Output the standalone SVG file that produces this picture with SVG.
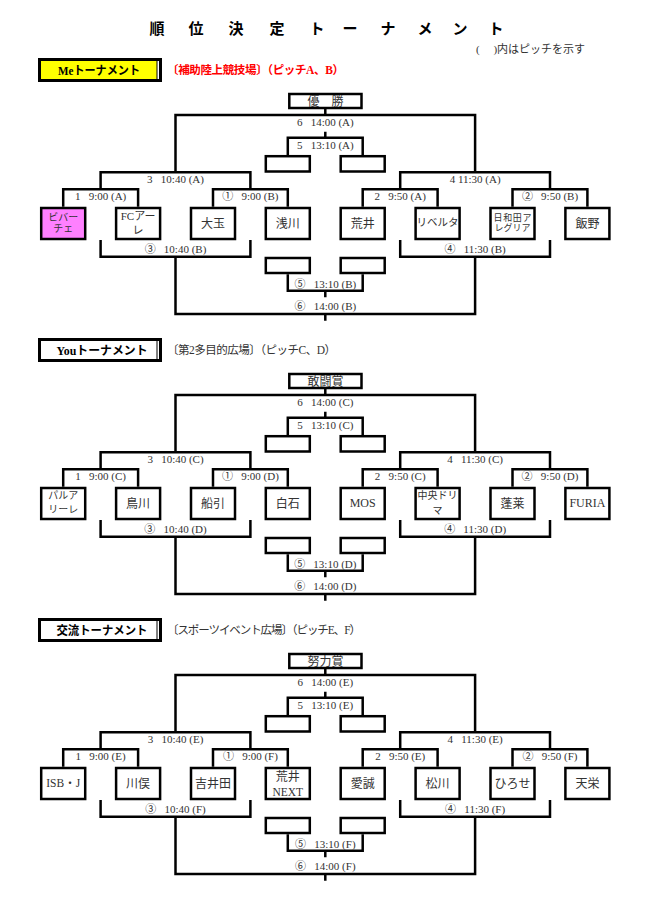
<svg xmlns="http://www.w3.org/2000/svg" width="649" height="906" viewBox="0 0 649 906">
<style>
.ln{fill:none;stroke:#000;stroke-width:2.5}
.bx{fill:#fff;stroke:#000;stroke-width:2.5}
.pk{fill:#ff80ff;stroke:#000;stroke-width:2.5}
.lb{font-family:"Liberation Serif","Noto Sans CJK JP",serif;font-size:11px;fill:#333;text-anchor:middle;white-space:pre}
.nm{font-family:"Liberation Serif","Noto Sans CJK JP",serif;font-size:12px;fill:#333;text-anchor:middle}
.hd{font-family:"Liberation Serif","Noto Sans CJK JP",serif;font-size:12px;font-weight:bold;fill:#000;text-anchor:middle}
.sub{font-family:"Liberation Serif","Noto Sans CJK JP",serif;font-size:11.5px;fill:#333}
.ttl{font-family:"Noto Sans CJK JP",sans-serif;font-size:15px;font-weight:bold;fill:#000;text-anchor:middle}
.ob{fill:#000}
.wh{fill:#fff}
</style>

<g id="title">
<text class="ttl" x="157 196 236 277 317 350 388 425 460 496" y="34">順位決定トーナメント</text>
<text x="476" y="52.5" style="font-family:'Liberation Serif','Noto Sans CJK JP',serif;font-size:11px;fill:#333;white-space:pre" xml:space="preserve">(　 )内はピッチを示す</text>
</g>

<g id="connectors" class="ln">
<path id="c-me" d="M325.3,109V115M175.5,172.3V115H475.1V172.3M325.3,131.7V137.7M287.8,155V137.7H362.7V155M100.6,189.3V172.3H250.4V189.3M400.2,189.3V172.3H550V189.3M63.2,206.7V189.3H138.1V206.7M213,206.7V189.3H287.8V206.7M362.7,206.7V189.3H437.6V206.7M512.5,206.7V189.3H587.4V206.7M100.6,240V256.7H250.4V240M400.2,240V256.7H550V240M175.5,256.7V314H475.1V256.7M287.8,274.3V290.7H362.7V274.3M325.3,290.7V297.3M325.3,314V320.7"/>
<path id="c-you" transform="translate(0,280)" d="M325.3,109V115M175.5,172.3V115H475.1V172.3M325.3,131.7V137.7M287.8,155V137.7H362.7V155M100.6,189.3V172.3H250.4V189.3M400.2,189.3V172.3H550V189.3M63.2,206.7V189.3H138.1V206.7M213,206.7V189.3H287.8V206.7M362.7,206.7V189.3H437.6V206.7M512.5,206.7V189.3H587.4V206.7M100.6,240V256.7H250.4V240M400.2,240V256.7H550V240M175.5,256.7V314H475.1V256.7M287.8,274.3V290.7H362.7V274.3M325.3,290.7V297.3M325.3,314V320.7"/>
<path id="c-kouryu" transform="translate(0,560)" d="M325.3,109V115M175.5,172.3V115H475.1V172.3M325.3,131.7V137.7M287.8,155V137.7H362.7V155M100.6,189.3V172.3H250.4V189.3M400.2,189.3V172.3H550V189.3M63.2,206.7V189.3H138.1V206.7M213,206.7V189.3H287.8V206.7M362.7,206.7V189.3H437.6V206.7M512.5,206.7V189.3H587.4V206.7M100.6,240V256.7H250.4V240M400.2,240V256.7H550V240M175.5,256.7V314H475.1V256.7M287.8,274.3V290.7H362.7V274.3M325.3,290.7V297.3M325.3,314V320.7"/>
</g>

<g id="labels-me">
<text class="lb" x="325.3" y="125.6">6   14:00 (A)</text>
<text class="lb" x="325.3" y="149">5   13:10 (A)</text>
<text class="lb" x="175.5" y="183.3">3   10:40 (A)</text>
<text class="lb" x="475.1" y="183.3">4 11:30 (A)</text>
<text class="lb" x="100.6" y="200">1   9:00 (A)</text>
<text class="lb" x="250.4" y="200">①   9:00 (B)</text>
<text class="lb" x="400.2" y="200">2   9:50 (A)</text>
<text class="lb" x="550" y="200">②   9:50 (B)</text>
<text class="lb" x="175.5" y="253">③   10:40 (B)</text>
<text class="lb" x="475.1" y="253">④   11:30 (B)</text>
<text class="lb" x="325.3" y="287.6">⑤   13:10 (B)</text>
<text class="lb" x="325.3" y="310.3">⑥   14:00 (B)</text>
</g>
<g id="labels-you" transform="translate(0,280)">
<text class="lb" x="325.3" y="125.6">6   14:00 (C)</text>
<text class="lb" x="325.3" y="149">5   13:10 (C)</text>
<text class="lb" x="175.5" y="183.3">3   10:40 (C)</text>
<text class="lb" x="475.1" y="183.3">4   11:30 (C)</text>
<text class="lb" x="100.6" y="200">1   9:00 (C)</text>
<text class="lb" x="250.4" y="200">①   9:00 (D)</text>
<text class="lb" x="400.2" y="200">2   9:50 (C)</text>
<text class="lb" x="550" y="200">②   9:50 (D)</text>
<text class="lb" x="175.5" y="253">③   10:40 (D)</text>
<text class="lb" x="475.1" y="253">④   11:30 (D)</text>
<text class="lb" x="325.3" y="287.6">⑤   13:10 (D)</text>
<text class="lb" x="325.3" y="310.3">⑥   14:00 (D)</text>
</g>
<g id="labels-kouryu" transform="translate(0,560)">
<text class="lb" x="325.3" y="125.6">6   14:00 (E)</text>
<text class="lb" x="325.3" y="149">5   13:10 (E)</text>
<text class="lb" x="175.5" y="183.3">3   10:40 (E)</text>
<text class="lb" x="475.1" y="183.3">4   11:30 (E)</text>
<text class="lb" x="100.6" y="200">1   9:00 (E)</text>
<text class="lb" x="250.4" y="200">①   9:00 (F)</text>
<text class="lb" x="400.2" y="200">2   9:50 (E)</text>
<text class="lb" x="550" y="200">②   9:50 (F)</text>
<text class="lb" x="175.5" y="253">③   10:40 (F)</text>
<text class="lb" x="475.1" y="253">④   11:30 (F)</text>
<text class="lb" x="325.3" y="287.6">⑤   13:10 (F)</text>
<text class="lb" x="325.3" y="310.3">⑥   14:00 (F)</text>
</g>

<!-- Section 1: Me -->
<g id="me">
<g id="me-header">
<rect class="ob" x="38" y="58" width="124" height="24"/>
<rect x="41" y="61" width="115.5" height="18" fill="#ff0"/>
<rect class="wh" x="157.5" y="61" width="1.5" height="18"/>
<text class="hd" x="99" y="74.5" textLength="82" lengthAdjust="spacingAndGlyphs">Meトーナメント</text>
</g>
<text id="me-place" class="sub" x="167" y="74" textLength="177" style="fill:#f00;font-weight:bold">〔補助陸上競技場〕（ピッチA、B）</text>
<g id="me-final"><rect class="bx" x="289.3" y="94" width="72.2" height="14"/><text class="nm" x="325.4" y="105.5">優　勝</text></g>
<g id="me-sf1"><rect class="bx" x="265.8" y="156.2" width="44" height="15.3"/></g>
<g id="me-sf2"><rect class="bx" x="340.7" y="156.2" width="44" height="15.3"/></g>
<g id="me-sf3"><rect class="bx" x="265.8" y="258" width="44" height="15"/></g>
<g id="me-sf4"><rect class="bx" x="340.7" y="258" width="44" height="15"/></g>
<g id="me-t1"><rect class="pk" x="41.2" y="208" width="44" height="31"/><text class="nm" style="font-size:10px" x="63.2" y="220.5">ビバー</text><text class="nm" style="font-size:10px" x="63.2" y="232">チェ</text></g>
<g id="me-t2"><rect class="bx" x="116.1" y="208" width="44" height="31"/><text class="nm" style="font-size:11px" x="138.1" y="220">FCアー</text><text class="nm" style="font-size:11px" x="138.1" y="234">レ</text></g>
<g id="me-t3"><rect class="bx" x="191" y="208" width="44" height="31"/><text class="nm" x="213" y="227.8">大玉</text></g>
<g id="me-t4"><rect class="bx" x="265.8" y="208" width="44" height="31"/><text class="nm" x="287.8" y="227.8">浅川</text></g>
<g id="me-t5"><rect class="bx" x="340.7" y="208" width="44" height="31"/><text class="nm" x="362.7" y="227.8">荒井</text></g>
<g id="me-t6"><rect class="bx" x="415.6" y="208" width="44" height="31"/><text class="nm" style="font-size:10.5px" x="437.6" y="225.6">リベルタ</text></g>
<g id="me-t7"><rect class="bx" x="490.5" y="208" width="44" height="31"/><text class="nm" style="font-size:9px;letter-spacing:0.6px" x="512.8" y="221">日和田ア</text><text class="nm" style="font-size:9px" x="512.5" y="231">レグリア</text></g>
<g id="me-t8"><rect class="bx" x="565.4" y="208" width="44" height="31"/><text class="nm" x="587.4" y="227.8">飯野</text></g>
</g>

<!-- Section 2: You -->
<g id="you" transform="translate(0,280)">
<g id="you-header">
<rect class="ob" x="38" y="58" width="124" height="24"/>
<rect class="wh" x="41" y="61" width="115.5" height="18"/>
<rect class="wh" x="157.5" y="61" width="1.5" height="18"/>
<text class="hd" x="102" y="74.5" textLength="91" lengthAdjust="spacingAndGlyphs">Youトーナメント</text>
</g>
<text id="you-place" class="sub" x="167" y="74" textLength="169">〔第2多目的広場〕（ピッチC、D）</text>
<g id="you-final"><rect class="bx" x="289.3" y="94" width="72.2" height="14"/><text class="nm" x="325.4" y="105.5">敢闘賞</text></g>
<g id="you-sf1"><rect class="bx" x="265.8" y="156.2" width="44" height="15.3"/></g>
<g id="you-sf2"><rect class="bx" x="340.7" y="156.2" width="44" height="15.3"/></g>
<g id="you-sf3"><rect class="bx" x="265.8" y="258" width="44" height="15"/></g>
<g id="you-sf4"><rect class="bx" x="340.7" y="258" width="44" height="15"/></g>
<g id="you-t1"><rect class="bx" x="41.2" y="208" width="44" height="31"/><text class="nm" style="font-size:10px" x="63.2" y="219">パルア</text><text class="nm" style="font-size:10px" x="63.2" y="233.2">リーレ</text></g>
<g id="you-t2"><rect class="bx" x="116.1" y="208" width="44" height="31"/><text class="nm" x="138.1" y="227.8">鳥川</text></g>
<g id="you-t3"><rect class="bx" x="191" y="208" width="44" height="31"/><text class="nm" x="213" y="227.8">船引</text></g>
<g id="you-t4"><rect class="bx" x="265.8" y="208" width="44" height="31"/><text class="nm" x="287.8" y="227.8">白石</text></g>
<g id="you-t5"><rect class="bx" x="340.7" y="208" width="44" height="31"/><text class="nm" x="362.7" y="227.3">MOS</text></g>
<g id="you-t6"><rect class="bx" x="415.6" y="208" width="44" height="31"/><text class="nm" style="font-size:10px" x="437.6" y="219">中央ドリ</text><text class="nm" style="font-size:10px" x="437.6" y="233.8">マ</text></g>
<g id="you-t7"><rect class="bx" x="490.5" y="208" width="44" height="31"/><text class="nm" x="512.5" y="227.8">蓬莱</text></g>
<g id="you-t8"><rect class="bx" x="565.4" y="208" width="44" height="31"/><text class="nm" x="587.4" y="227.3">FURIA</text></g>
</g>

<!-- Section 3: 交流 -->
<g id="kouryu" transform="translate(0,560)">
<g id="kouryu-header">
<rect class="ob" x="38" y="58" width="124" height="24"/>
<rect class="wh" x="41" y="61" width="115.5" height="18"/>
<rect class="wh" x="157.5" y="61" width="1.5" height="18"/>
<text class="hd" x="102" y="74.5" textLength="91" lengthAdjust="spacingAndGlyphs">交流トーナメント</text>
</g>
<text id="kouryu-place" class="sub" x="167" y="74" textLength="194">〔スポーツイベント広場〕（ピッチE、F）</text>
<g id="kouryu-final"><rect class="bx" x="289.3" y="94" width="72.2" height="14"/><text class="nm" x="325.4" y="105.5">努力賞</text></g>
<g id="kouryu-sf1"><rect class="bx" x="265.8" y="156.2" width="44" height="15.3"/></g>
<g id="kouryu-sf2"><rect class="bx" x="340.7" y="156.2" width="44" height="15.3"/></g>
<g id="kouryu-sf3"><rect class="bx" x="265.8" y="258" width="44" height="15"/></g>
<g id="kouryu-sf4"><rect class="bx" x="340.7" y="258" width="44" height="15"/></g>
<g id="kouryu-t1"><rect class="bx" x="41.2" y="208" width="44" height="31"/><text class="nm" style="font-size:11.5px" x="63.2" y="227.3">ISB・J</text></g>
<g id="kouryu-t2"><rect class="bx" x="116.1" y="208" width="44" height="31"/><text class="nm" x="138.1" y="227.8">川俣</text></g>
<g id="kouryu-t3"><rect class="bx" x="191" y="208" width="44" height="31"/><text class="nm" x="213" y="227.8">吉井田</text></g>
<g id="kouryu-t4"><rect class="bx" x="265.8" y="208" width="44" height="31"/><text class="nm" x="287.8" y="221.2">荒井</text><text class="nm" style="font-size:11.5px" x="287.8" y="235.5">NEXT</text></g>
<g id="kouryu-t5"><rect class="bx" x="340.7" y="208" width="44" height="31"/><text class="nm" x="362.7" y="227.8">愛誠</text></g>
<g id="kouryu-t6"><rect class="bx" x="415.6" y="208" width="44" height="31"/><text class="nm" x="437.6" y="227.8">松川</text></g>
<g id="kouryu-t7"><rect class="bx" x="490.5" y="208" width="44" height="31"/><text class="nm" x="512.5" y="227.8">ひろせ</text></g>
<g id="kouryu-t8"><rect class="bx" x="565.4" y="208" width="44" height="31"/><text class="nm" x="587.4" y="227.8">天栄</text></g>
</g>
</svg>
